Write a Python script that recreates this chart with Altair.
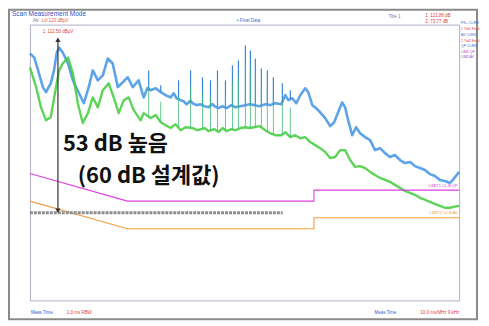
import altair as alt
import pandas as pd

# ---------------- data ----------------
# Peak trace (blue) band: frequency in MHz, level in dBuV
blue_f = [0.150, 0.158, 0.166, 0.176, 0.183, 0.194, 0.202, 0.209, 0.215, 0.225,
          0.240, 0.255, 0.275, 0.292, 0.310, 0.326, 0.347, 0.369, 0.392, 0.417,
          0.444, 0.472, 0.502, 0.534, 0.574, 0.611, 0.640, 0.666, 0.709, 0.754,
          0.801, 0.852, 0.884, 0.918, 0.964, 1.000, 1.038, 1.090, 1.117, 1.174,
          1.233, 1.295, 1.360, 1.429, 1.465, 1.539, 1.617, 1.698, 1.806, 1.896,
          2.017, 2.145, 2.254, 2.398, 2.549, 2.744, 2.918, 3.103, 3.342, 3.510,
          3.641, 3.828, 4.020, 4.222, 4.490, 4.659, 4.897, 5.140, 5.400, 5.743,
          6.108, 6.417, 6.740, 7.080, 7.346, 7.627, 8.013, 8.418, 8.836, 9.397,
          10.0, 10.63, 11.30, 12.02, 12.78, 13.60, 14.46, 15.38, 16.36, 17.39,
          18.50, 19.67, 20.92, 22.25, 23.66, 25.16, 26.76, 27.79, 28.84, 30.0]
blue_db = [109.5, 108.1, 103.4, 97.3, 95.5, 98.7, 103.4, 109.9, 111.7, 109.9,
           105.9, 99.8, 95.1, 91.5, 97.3, 103.4, 99.8, 101.6, 107.7, 105.9,
           97.3, 99.1, 100.9, 97.3, 99.8, 93.6, 97.0, 96.2, 96.9, 95.5,
           94.4, 93.6, 95.1, 93.3, 92.6, 92.2, 91.1, 92.4, 91.5, 90.8,
           91.1, 90.4, 90.0, 91.2, 90.4, 89.7, 90.4, 89.7, 90.8, 90.0,
           90.4, 90.8, 91.1, 90.8, 90.4, 91.1, 90.8, 91.5, 91.1, 94.4,
           92.6, 93.3, 91.5, 94.4, 96.9, 95.5, 90.8, 89.7, 88.2, 86.1,
           83.2, 84.6, 88.2, 91.8, 90.0, 85.3, 79.9, 82.8, 80.6, 79.2,
           78.1, 74.5, 75.2, 73.4, 72.0, 72.7, 70.9, 69.8, 70.2, 68.7,
           68.0, 67.3, 65.8, 65.1, 63.7, 63.3, 62.6, 63.7, 65.1, 66.6]

# Average trace (green) band
green_f = [0.150, 0.162, 0.172, 0.183, 0.194, 0.207, 0.215, 0.225, 0.240, 0.255,
           0.271, 0.288, 0.307, 0.326, 0.347, 0.369, 0.397, 0.422, 0.449, 0.478,
           0.508, 0.540, 0.589, 0.611, 0.666, 0.709, 0.754, 0.801, 0.852, 0.906,
           0.964, 1.025, 1.117, 1.188, 1.295, 1.360, 1.465, 1.539, 1.617, 1.698,
           1.806, 1.896, 2.017, 2.145, 2.254, 2.398, 2.549, 2.744, 2.918, 3.103,
           3.342, 3.510, 3.733, 3.970, 4.222, 4.490, 4.775, 5.078, 5.400, 5.743,
           6.108, 6.495, 6.908, 7.346, 7.813, 8.309, 8.836, 9.397, 10.0, 10.63,
           11.30, 12.02, 12.78, 13.60, 14.46, 15.38, 16.36, 17.39, 18.50, 19.67,
           20.92, 22.25, 23.66, 25.16, 26.76, 28.46, 30.0]
green_db = [104.5, 97.3, 90.0, 85.3, 86.4, 97.3, 103.4, 105.9, 108.1, 102.3,
            91.5, 84.3, 87.9, 93.6, 90.0, 96.2, 98.7, 93.6, 87.9, 92.6,
            93.6, 89.0, 85.3, 87.9, 86.1, 87.2, 84.6, 83.5, 82.5, 83.9,
            81.7, 82.8, 82.5, 81.7, 82.5, 81.4, 82.1, 81.0, 82.5, 81.4,
            82.1, 81.7, 82.5, 82.8, 82.5, 82.8, 83.2, 81.7, 80.6, 79.9,
            79.9, 81.0, 79.2, 79.9, 78.8, 79.2, 77.4, 76.3, 75.2, 73.8,
            71.6, 72.0, 74.5, 74.5, 70.9, 68.4, 68.7, 68.0, 66.6, 65.5,
            64.4, 63.7, 63.0, 61.9, 60.8, 59.7, 59.0, 58.3, 57.2, 56.5,
            55.7, 55.0, 54.3, 53.6, 53.6, 54.0, 54.3]

# Narrow harmonic spikes rising out of the bands
spike_f = [0.650, 0.754, 0.940, 1.090, 1.263, 1.394, 1.520, 1.677, 1.828,
           1.968, 2.145, 2.281, 2.426, 2.613, 2.812, 3.030, 3.384, 3.733]
spike_blue_base = [96.0, 95.5, 93.0, 91.5, 91.0, 90.5, 90.0, 90.0, 90.5,
                   90.3, 90.8, 91.0, 90.8, 90.6, 91.0, 91.0, 91.5, 93.0]
spike_blue_top = [103.4, 98.0, 99.8, 103.4, 100.9, 99.8, 103.4, 99.8, 105.2,
                  107.0, 112.4, 110.6, 107.7, 104.1, 103.4, 100.9, 98.7, 96.2]
spike_green_base = [86.5, 84.6, 83.0, 82.6, 82.3, 81.6, 81.5, 81.6, 82.0,
                    82.3, 82.8, 82.6, 82.9, 82.5, 81.2, 80.3, 79.9, 79.2]
spike_green_top = [97.5, 92.0, 94.0, 97.5, 95.0, 94.0, 97.5, 94.0, 99.0,
                   101.0, 106.0, 104.5, 101.5, 98.0, 97.0, 95.0, 92.5, 90.0]

# Limit lines (CISPR class B)
qp_f = [0.15, 0.5, 5.0, 5.0, 30.0]
qp_db = [66, 56, 56, 60, 60]
av_f = [0.15, 0.5, 5.0, 5.0, 30.0]
av_db = [56, 46, 46, 50, 50]

# Design level line (gray) and the 53 dB arrow
design_f = [0.15, 3.4]
design_db = [51.8, 51.8]
arrow_f = [0.212]
arrow_top = [114.5]
arrow_bottom = [52.5]

x_grid = [0.2, 0.3, 0.4, 0.5, 0.6, 0.7, 0.8, 0.9, 1, 2, 3, 4, 5, 6, 7, 8, 9, 10, 20, 30]
y_ticks = [20, 30, 40, 50, 60, 70, 80, 90, 100, 110, 120]

annotation_1 = "53 dB 높음"
annotation_2 = "(60 dB 설계값)"

# ---------------- chart ----------------
xs = alt.Scale(type="log", domain=[0.15, 30], nice=False)
ys = alt.Scale(domain=[20, 120], nice=False)
FONT = "Liberation Sans"
KFONT = "Noto Sans CJK KR"


def df_xy(fs, vs):
    return pd.DataFrame({"f": fs, "db": vs, "i": list(range(len(fs)))})


def X(axis=None):
    if axis is None:
        return alt.X("f:Q", scale=xs, axis=None)
    return alt.X("f:Q", scale=xs, axis=axis)


def Y(axis=None):
    if axis is None:
        return alt.Y("db:Q", scale=ys, axis=None)
    return alt.Y("db:Q", scale=ys, axis=axis)


x_axis = alt.Axis(values=x_grid,
                  labelExpr="datum.value == 1 ? '1 MHz' : (datum.value == 10 ? '10 MHz' : '')",
                  grid=True, gridColor="#d9d9e8", gridWidth=0.8, ticks=False,
                  labelFontSize=5, labelColor="#555555", labelPadding=3, labelFont=FONT,
                  labelOverlap=False, labelFlush=False,
                  domainColor="#9a9a9a", domainWidth=1.5, title=None)
y_axis = alt.Axis(values=y_ticks, labelExpr="datum.value + ' dBµV'",
                  grid=True, gridColor="#dedede", gridWidth=0.8,
                  tickSize=2, tickColor="#999999",
                  labelFontSize=4.5, labelColor="#666666", labelPadding=1, labelFont=FONT,
                  labelOverlap=False, domainColor="#9a9a9a", domainWidth=2, title=None)

one = pd.DataFrame({"a": [0]})

spikes_df = pd.DataFrame({"f": spike_f, "bb": spike_blue_base, "bt": spike_blue_top,
                          "gb": spike_green_base, "gt": spike_green_top})

blue = alt.Chart(df_xy(blue_f, blue_db)).mark_line(
    color="#4193e6", strokeWidth=2.6, opacity=0.85, strokeJoin="round"
).encode(x=X(x_axis), y=Y(y_axis), order="i:Q")

blue_spikes = alt.Chart(spikes_df).mark_rule(color="#3a86d8", strokeWidth=1.2).encode(
    x=X(), y=alt.Y("bt:Q", scale=ys, axis=None), y2="bb:Q")

green = alt.Chart(df_xy(green_f, green_db)).mark_line(
    color="#3fcc3a", strokeWidth=2.4, opacity=0.85, strokeJoin="round"
).encode(x=X(), y=Y(), order="i:Q")

green_spikes = alt.Chart(spikes_df).mark_rule(color="#3cb878", strokeWidth=1.0, opacity=0.8).encode(
    x=X(), y=alt.Y("gt:Q", scale=ys, axis=None), y2="gb:Q")

qp = alt.Chart(df_xy(qp_f, qp_db)).mark_line(color="#dd3fe0", strokeWidth=1.1).encode(
    x=X(), y=Y(), order="i:Q")
av = alt.Chart(df_xy(av_f, av_db)).mark_line(color="#f0a040", strokeWidth=1.1).encode(
    x=X(), y=Y(), order="i:Q")

design = alt.Chart(df_xy(design_f, design_db)).mark_line(
    color="#8e8e8e", strokeWidth=3, strokeDash=[3, 1]
).encode(x=X(), y=Y(), order="i:Q")

arrow_df = pd.DataFrame({"f": arrow_f, "top": arrow_top, "bot": arrow_bottom})
arrow = alt.Chart(arrow_df).mark_rule(color="#333333", strokeWidth=1.2).encode(
    x=X(), y=alt.Y("top:Q", scale=ys, axis=None), y2="bot:Q")
head_up = alt.Chart(arrow_df).mark_point(shape="triangle-up", filled=True, size=28,
                                         color="#333333", opacity=1).encode(
    x=X(), y=alt.Y("top:Q", scale=ys, axis=None))
head_dn = alt.Chart(arrow_df).mark_point(shape="triangle-down", filled=True, size=28,
                                         color="#333333", opacity=1).encode(
    x=X(), y=alt.Y("bot:Q", scale=ys, axis=None))


def dtext(f, db, txt, color, size, align="left", weight="normal", font=FONT, baseline="middle"):
    return alt.Chart(pd.DataFrame({"f": [f], "db": [db]})).mark_text(
        text=txt, color=color, fontSize=size, align=align, baseline=baseline,
        font=font, fontWeight=weight
    ).encode(x=X(), y=Y())


def ptext(px, py, txt, color, size, align="left", weight="normal"):
    return alt.Chart(one).mark_text(
        text=txt, color=color, fontSize=size, align=align, baseline="middle",
        font=FONT, fontWeight=weight
    ).encode(x=alt.value(px), y=alt.value(py))


ann1 = dtext(0.2254, 76.7, annotation_1, "#111111", 22, weight="bold", font=KFONT)
ann2 = dtext(0.271, 65.1, annotation_2, "#111111", 22, weight="bold", font=KFONT)
marker = dtext(0.212, 117.3, "1: 112.50 dBµV", "#e03c3c", 4.5, align="center")
lim1 = dtext(29.5, 61.6, "LIMIT1 CL.B QP", "#d83cd8", 4, align="right")
lim2 = dtext(29.5, 51.6, "LIMIT2 CL.B AV", "#f09a3a", 4, align="right")

frame = alt.Chart(one).mark_rect(fill="transparent", stroke="#8a8a8a", strokeWidth=2).encode(
    x=alt.value(-21), x2=alt.value(449), y=alt.value(-15), y2=alt.value(296))

deco = [
    ptext(-18, -10.5, "Scan Measurement Mode", "#3552c8", 6.5),
    ptext(3, -4, "Att", "#777777", 4.5),
    ptext(12, -4, "Lvl 120 dBµV", "#e05a3a", 4.5),
    ptext(208, -4, "• Final Data", "#3a6ad0", 4.5),
    ptext(360, -8, "Title 1", "#6a7ab0", 4.5),
    ptext(397, -9, "1: 121.86 dB", "#e03c3c", 4.5),
    ptext(397, -3, "2:  73.77 dB", "#e03c3c", 4.5),
    ptext(433, -2, "PK+ CLRW", "#3a6ad0", 3.5),
    ptext(433, 4, "1 Trd1 Final", "#e03c3c", 3.5),
    ptext(433, 10, "AV CLRW", "#3a6ad0", 3.5),
    ptext(433, 16, "2 Trd2 Final", "#e03c3c", 3.5),
    ptext(433, 22, "QP CLRW", "#3a6ad0", 3.5),
    ptext(433, 28, "LIM1 QP", "#c040c8", 3.5),
    ptext(433, 33, "LIM2 AV", "#8050c0", 3.5),
    ptext(1, 290, "Meas Time", "#3a5ad0", 4.5),
    ptext(37, 290, "1.0 ms  RBW", "#e03c3c", 4.5),
    ptext(346, 290, "Meas Time", "#3a5ad0", 4.5),
    ptext(392, 290, "10.0 ms/MHz  9 kHz", "#e03c3c", 4.5),
]

chart = alt.layer(
    blue, blue_spikes, green, green_spikes, qp, av, design, arrow, head_up, head_dn,
    ann1, ann2, marker, lim1, lim2, frame, *deco
).properties(
    width=431, height=277,
    autosize=alt.AutoSizeParams(type="none"),
    padding={"left": 22, "top": 16, "right": 22, "bottom": 22},
    background="white",
).configure_view(stroke="#b0b0c8", strokeWidth=1)

chart.save("out.html", embed_options={"renderer": "svg", "actions": False})
